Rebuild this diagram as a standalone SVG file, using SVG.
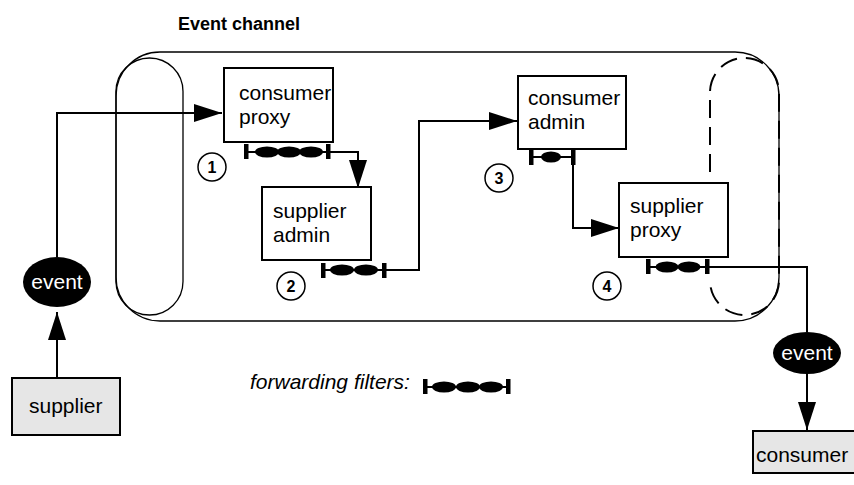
<svg xmlns="http://www.w3.org/2000/svg" width="854" height="485" viewBox="0 0 854 485">
<style>
text{font-family:"Liberation Sans",Arial,sans-serif;fill:#000}
.lbl{font-size:21px}
.box{fill:#fff;stroke:#000;stroke-width:2}
.ext{fill:#e6e6e6;stroke:#000;stroke-width:2}
.thin{fill:none;stroke:#000;stroke-width:1.3}
.dash{fill:none;stroke:#000;stroke-width:2;stroke-dasharray:18 9}
.conn{fill:none;stroke:#000;stroke-width:2}
.num circle{fill:#fff;stroke:#000;stroke-width:1.5}
.num text{font-size:16px;font-weight:bold;text-anchor:middle}
.ev ellipse{fill:#000}
.ev text{fill:#fff;font-size:21px;text-anchor:middle}
.flt line{stroke:#000;stroke-width:2}
.flt rect,.flt ellipse{fill:#000}
</style>
<defs>
<marker id="arr" markerUnits="userSpaceOnUse" viewBox="0 0 28 18" refX="28" refY="9" markerWidth="28" markerHeight="18" orient="auto">
<path d="M0,0 L28,9 L0,18 z" fill="#000"/>
</marker>
</defs>

<text x="178" y="30" style="font-size:18px;font-weight:bold">Event channel</text>

<g id="channel">
<rect class="thin" x="116" y="52" width="663" height="269" rx="44" ry="44"/>
<rect class="thin" x="116" y="58" width="67" height="257" rx="33.5" ry="33.5"/>
<path class="dash" d="M710,172 V92.5 A34.5,34.5 0 0 1 779,92.5 V280.5 A34.5,34.5 0 0 1 710,280.5"/>
</g>

<g id="connectors">
<path class="conn" d="M57,257 V113 H222" marker-end="url(#arr)"/>
<path class="conn" d="M57,378 V312" marker-end="url(#arr)"/>
<path class="conn" d="M330,152 H358 V188" marker-end="url(#arr)"/>
<path class="conn" d="M386,270 H419 V121 H517" marker-end="url(#arr)"/>
<path class="conn" d="M573,164 V228 H619" marker-end="url(#arr)"/>
<path class="conn" d="M709,267 H807 V332"/>
<path class="conn" d="M807,374 V430" marker-end="url(#arr)"/>
</g>

<g id="consumer-proxy">
<rect class="box" x="224" y="68" width="109" height="74"/>
<text class="lbl" x="239" y="100">consumer</text>
<text class="lbl" x="239" y="124">proxy</text>
</g>
<g id="filter1" class="flt">
<line x1="246" y1="152" x2="328" y2="152"/>
<rect x="244" y="144" width="4.5" height="15"/>
<rect x="326" y="144" width="4.5" height="15"/>
<ellipse cx="267" cy="152" rx="12" ry="5.5"/>
<ellipse cx="289" cy="152" rx="12" ry="5.5"/>
<ellipse cx="311" cy="152" rx="12" ry="5.5"/>
</g>

<g id="supplier-admin">
<rect class="box" x="262" y="187" width="109" height="73"/>
<text class="lbl" x="273" y="218">supplier</text>
<text class="lbl" x="273" y="242">admin</text>
</g>
<g id="filter2" class="flt">
<line x1="323" y1="270" x2="384" y2="270"/>
<rect x="321" y="263" width="4.5" height="15"/>
<rect x="382" y="263" width="4.5" height="15"/>
<ellipse cx="342" cy="270" rx="12" ry="5.5"/>
<ellipse cx="366" cy="270" rx="12" ry="5.5"/>
</g>

<g id="consumer-admin">
<rect class="box" x="518" y="76" width="108" height="73"/>
<text class="lbl" x="528" y="105">consumer</text>
<text class="lbl" x="528" y="129">admin</text>
</g>
<g id="filter3" class="flt">
<line x1="531" y1="157" x2="573" y2="157"/>
<rect x="529" y="150" width="4.5" height="15"/>
<rect x="571" y="150" width="4.5" height="15"/>
<ellipse cx="551" cy="157" rx="10" ry="5.5"/>
</g>

<g id="supplier-proxy">
<rect class="box" x="619" y="183" width="109" height="74"/>
<text class="lbl" x="630" y="213">supplier</text>
<text class="lbl" x="630" y="237">proxy</text>
</g>
<g id="filter4" class="flt">
<line x1="648" y1="267" x2="707" y2="267"/>
<rect x="646" y="259" width="4.5" height="15"/>
<rect x="705" y="259" width="4.5" height="15"/>
<ellipse cx="667" cy="267" rx="11.5" ry="5.5"/>
<ellipse cx="689" cy="267" rx="11.5" ry="5.5"/>
</g>

<g id="n1" class="num"><circle cx="212" cy="167" r="14"/><text x="212" y="173">1</text></g>
<g id="n2" class="num"><circle cx="291" cy="286" r="14"/><text x="291" y="292">2</text></g>
<g id="n3" class="num"><circle cx="499" cy="178" r="14"/><text x="499" y="184">3</text></g>
<g id="n4" class="num"><circle cx="607" cy="286" r="14"/><text x="607" y="292">4</text></g>

<g id="event-left" class="ev">
<ellipse cx="57" cy="282" rx="34" ry="25"/>
<text x="57" y="289">event</text>
</g>
<g id="event-right" class="ev">
<ellipse cx="807" cy="353" rx="34" ry="21"/>
<text x="807" y="360">event</text>
</g>

<g id="supplier">
<rect class="ext" x="12" y="378" width="108" height="57"/>
<text class="lbl" x="29" y="413">supplier</text>
</g>
<g id="consumer">
<rect class="ext" x="753" y="431" width="110" height="42"/>
<text class="lbl" x="756" y="462">consumer</text>
</g>

<g id="legend">
<text x="250" y="389" style="font-size:21px;font-style:italic">forwarding filters:</text>
<g class="flt">
<line x1="425" y1="387" x2="508" y2="387"/>
<rect x="423" y="379" width="4.5" height="15"/>
<rect x="506" y="379" width="4.5" height="15"/>
<ellipse cx="444" cy="387" rx="12" ry="5.5"/>
<ellipse cx="468" cy="387" rx="12" ry="5.5"/>
<ellipse cx="491" cy="387" rx="12" ry="5.5"/>
</g>
</g>
</svg>
